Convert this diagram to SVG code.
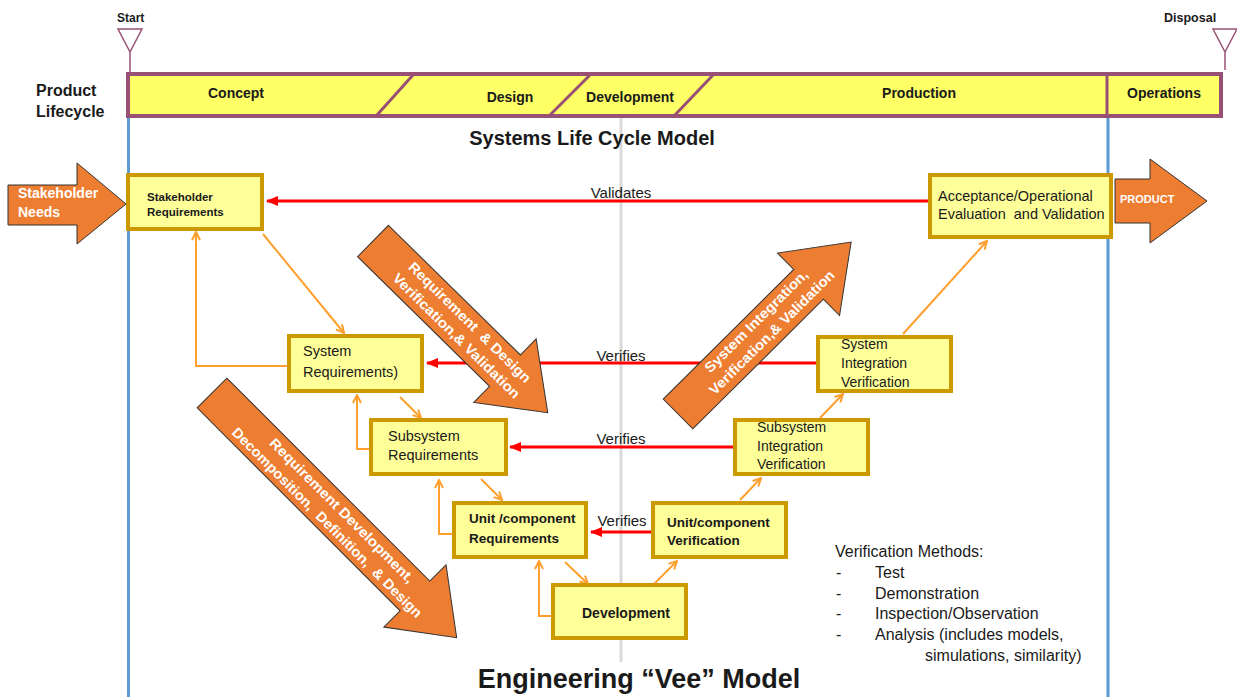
<svg xmlns="http://www.w3.org/2000/svg" width="1237" height="697" viewBox="0 0 1237 697">
<defs>
<style>
text{font-family:"Liberation Sans",Arial,sans-serif;fill:#1a1a1a}
.b{font-weight:bold}
.box{fill:#FFFF99;stroke:#CC9900;stroke-width:4}
.bt{font-size:14.5px}
.bb{font-size:13.5px;font-weight:bold}
.big{fill:#ED7D31;stroke:#333;stroke-width:1}
.wt{fill:#fff;font-weight:bold;font-size:14px}
.red{stroke:#FF0000;stroke-width:3;fill:none}
.org{stroke:#FF9F2E;stroke-width:2;fill:none}
.pl{font-size:14px;font-weight:bold;text-anchor:middle}
.vm{font-size:16px}
</style>
<marker id="ra" viewBox="0 0 12 10" refX="11" refY="5" markerWidth="12" markerHeight="10" markerUnits="userSpaceOnUse" orient="auto"><path d="M0,0 L12,5 L0,10 Z" fill="#FF0000"/></marker>
<marker id="oa" viewBox="0 0 10 10" refX="9" refY="5" markerWidth="10" markerHeight="10" markerUnits="userSpaceOnUse" orient="auto"><path d="M1,1 L9,5 L1,9" fill="none" stroke="#FF9F2E" stroke-width="2"/></marker>
</defs>
<rect width="1237" height="697" fill="#fff"/>
<g id="frame">
<line x1="621" y1="117" x2="621" y2="662" stroke="#D9D9D9" stroke-width="3"/>
<line x1="128.5" y1="117" x2="128.5" y2="697" stroke="#5B9BD5" stroke-width="3"/>
<line x1="1108" y1="117" x2="1108" y2="697" stroke="#5B9BD5" stroke-width="3"/>
</g>
<g id="lifecycle">
<text x="117" y="22" class="b" font-size="12">Start</text>
<path d="M118,29 L142,29 L130,52 Z M130,52 V72" fill="none" stroke="#985074" stroke-width="1.5"/>
<text x="1164" y="22" class="b" font-size="12.5">Disposal</text>
<path d="M1213,29 L1237,29 L1225,52 Z M1225,52 V70" fill="none" stroke="#985074" stroke-width="1.5"/>
<rect x="128" y="74" width="1093" height="42" fill="#FFFF66" stroke="#985074" stroke-width="4"/>
<path d="M413,75 L377,115 M590,75 L550,115 M713,75 L675,115 M1107,74 V116" stroke="#985074" stroke-width="3" fill="none"/>
<text x="236" y="98" class="pl">Concept</text>
<text x="510" y="102" class="pl">Design</text>
<text x="630" y="102" class="pl">Development</text>
<text x="919" y="98" class="pl">Production</text>
<text x="1164" y="98" class="pl">Operations</text>
<text x="36" y="96" class="b" font-size="16">Product</text>
<text x="36" y="117" class="b" font-size="16">Lifecycle</text>
</g>
<text x="592" y="145" class="b" font-size="20" text-anchor="middle">Systems Life Cycle Model</text>
<text x="639" y="688" class="b" font-size="27" text-anchor="middle">Engineering “Vee” Model</text>
<g id="connectors">
<path class="red" d="M928,201 H267" marker-end="url(#ra)"/>
<path class="red" d="M816,363 H427" marker-end="url(#ra)"/>
<path class="red" d="M733,447 H510" marker-end="url(#ra)"/>
<path class="red" d="M651,532 H591" marker-end="url(#ra)"/>
<text x="621" y="198" font-size="15" text-anchor="middle">Validates</text>
<text x="621" y="361" font-size="15" text-anchor="middle">Verifies</text>
<text x="621" y="444" font-size="15" text-anchor="middle">Verifies</text>
<text x="622" y="526" font-size="15" text-anchor="middle">Verifies</text>
<path class="org" d="M263,234 L344,333" marker-end="url(#oa)"/>
<path class="org" d="M289,366 H196 V232" marker-end="url(#oa)"/>
<path class="org" d="M400,397 L421,418" marker-end="url(#oa)"/>
<path class="org" d="M371,449 H357 V395" marker-end="url(#oa)"/>
<path class="org" d="M481,479 L502,500" marker-end="url(#oa)"/>
<path class="org" d="M454,534 H439 V480" marker-end="url(#oa)"/>
<path class="org" d="M565,562 L588,584" marker-end="url(#oa)"/>
<path class="org" d="M553,616 H539 V561" marker-end="url(#oa)"/>
<path class="org" d="M652,586 L677,561" marker-end="url(#oa)"/>
<path class="org" d="M740,500 L761,478" marker-end="url(#oa)"/>
<path class="org" d="M820,418 L843,394" marker-end="url(#oa)"/>
<path class="org" d="M903,334 L987,241" marker-end="url(#oa)"/>
</g>
<g id="stakeholder-needs">
<path class="big" d="M8,185 H77 V163 L126,204 L77,244 V225 H8 Z"/>
<text x="18" y="198" class="wt" font-size="13.5">Stakeholder</text>
<text x="18" y="217" class="wt" font-size="13.5">Needs</text>
</g>
<g id="product">
<path class="big" d="M1115,179 H1150 V159 L1207,201 L1150,243 V223 H1115 Z"/>
<text x="1120" y="203" class="wt" style="font-size:11px">PRODUCT</text>
</g>
<g id="stakeholder-requirements">
<rect class="box" x="128" y="175" width="134" height="54"/>
<text x="147" y="201" class="b" font-size="11.5">Stakeholder</text>
<text x="147" y="216" class="b" font-size="11.5">Requirements</text>
</g>
<g id="acceptance">
<rect class="box" x="930" y="175" width="181" height="62"/>
<text x="938" y="201" class="bt">Acceptance/Operational</text>
<text x="938" y="219" class="bt" xml:space="preserve">Evaluation  and Validation</text>
</g>
<g id="system-requirements">
<rect class="box" x="289" y="336" width="133" height="55"/>
<text x="303" y="356" class="bt">System</text>
<text x="303" y="377" class="bt">Requirements)</text>
</g>
<g id="subsystem-requirements">
<rect class="box" x="371" y="420" width="135" height="54"/>
<text x="388" y="441" class="bt">Subsystem</text>
<text x="388" y="460" class="bt">Requirements</text>
</g>
<g id="unit-requirements">
<rect class="box" x="454" y="503" width="132" height="54"/>
<text x="469" y="523" class="bb">Unit /component</text>
<text x="469" y="543" class="bb">Requirements</text>
</g>
<g id="development">
<rect class="box" x="553" y="585" width="133" height="53"/>
<text x="582" y="618" class="bb" style="font-size:14px">Development</text>
</g>
<g id="unit-verification">
<rect class="box" x="653" y="503" width="133" height="54"/>
<text x="667" y="527" class="bb">Unit/component</text>
<text x="667" y="545" class="bb">Verification</text>
</g>
<g id="subsystem-integration">
<rect class="box" x="735" y="420" width="133" height="54"/>
<text x="757" y="432" class="bt" style="font-size:14px">Subsystem</text>
<text x="757" y="451" class="bt" style="font-size:14px">Integration</text>
<text x="757" y="469" class="bt" style="font-size:14px">Verification</text>
</g>
<g id="system-integration">
<rect class="box" x="818" y="337" width="133" height="54"/>
<text x="841" y="349" class="bt" style="font-size:14px">System</text>
<text x="841" y="368" class="bt" style="font-size:14px">Integration</text>
<text x="841" y="387" class="bt" style="font-size:14px">Verification</text>
</g>
<g id="arrow-design-vv" transform="translate(373,241) rotate(44.5)">
<path class="big" d="M0,-22 H185 V-44.5 L245,0 L185,44.5 V22 H0 Z"/>
<text x="126" y="-5" class="wt" text-anchor="middle" textLength="165" lengthAdjust="spacingAndGlyphs" xml:space="preserve">Requirement  &amp; Design</text>
<text x="126" y="14" class="wt" text-anchor="middle" textLength="172" lengthAdjust="spacingAndGlyphs">Verification,&amp; Validation</text>
</g>
<g id="arrow-integration" transform="translate(678,414) rotate(-44.8)">
<path class="big" d="M0,-21 H184 V-44 L244,0 L184,44 V21 H0 Z"/>
<text x="121" y="-6" class="wt" text-anchor="middle" textLength="139" lengthAdjust="spacingAndGlyphs">System Integration,</text>
<text x="124" y="13" class="wt" text-anchor="middle" textLength="170" lengthAdjust="spacingAndGlyphs">Verification,&amp; Validation</text>
</g>
<g id="arrow-decomposition" transform="translate(212,393) rotate(45)">
<path class="big" d="M0,-21 H287 V-44 L346,0 L287,44 V21 H0 Z"/>
<text x="175" y="-4" class="wt" text-anchor="middle" textLength="198" lengthAdjust="spacingAndGlyphs">Requirement Development,</text>
<text x="173" y="15" class="wt" text-anchor="middle" textLength="262" lengthAdjust="spacingAndGlyphs" xml:space="preserve">Decomposition,  Definition,  &amp; Design</text>
</g>
<g id="verification-methods">
<text x="835" y="557" class="vm">Verification Methods:</text>
<text x="836" y="578" class="vm">-</text><text x="875" y="578" class="vm">Test</text>
<text x="836" y="599" class="vm">-</text><text x="875" y="599" class="vm">Demonstration</text>
<text x="836" y="619" class="vm">-</text><text x="875" y="619" class="vm">Inspection/Observation</text>
<text x="836" y="640" class="vm">-</text><text x="875" y="640" class="vm">Analysis (includes models,</text>
<text x="925" y="661" class="vm">simulations, similarity)</text>
</g>
</svg>
